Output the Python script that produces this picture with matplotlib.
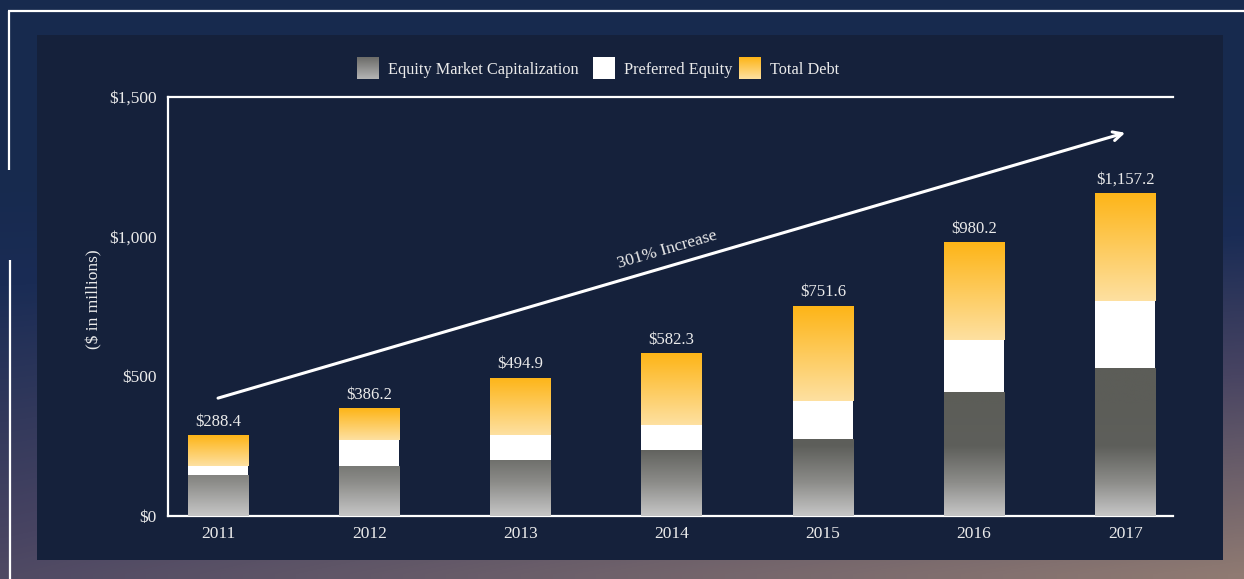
import numpy as np
import matplotlib
matplotlib.use("Agg")
import matplotlib.pyplot as plt
from matplotlib.patches import Rectangle
from matplotlib.colors import LinearSegmentedColormap

# ---------------- data ----------------
years = ["2011", "2012", "2013", "2014", "2015", "2016", "2017"]
equity_market_cap = [147, 179, 200, 236, 276, 444, 530]
preferred_equity = [32, 93, 90, 90, 136, 186, 240]
total_capitalization = [288.4, 386.2, 494.9, 582.3, 751.6, 980.2, 1157.2]
total_debt = [t - e - p for t, e, p in zip(total_capitalization, equity_market_cap, preferred_equity)]
total_labels = ["$288.4", "$386.2", "$494.9", "$582.3", "$751.6", "$980.2", "$1,157.2"]
y_ticks = [0, 500, 1000, 1500]
y_tick_labels = ["$0", "$500", "$1,000", "$1,500"]
legend_labels = ["Equity Market Capitalization", "Preferred Equity", "Total Debt"]
arrow_start = (0, 422)
arrow_end = (6, 1372)
arrow_text = "301% Increase"
arrow_text_pos = (2.97, 952)

# ---------------- style ----------------
FONT = ["Liberation Serif", "DejaVu Serif"]
plt.rcParams["font.family"] = FONT
TXT = "#ebebeb"
W, H = 1244, 579

fig = plt.figure(figsize=(W / 100, H / 100), dpi=100)

# background axes in pixel coordinates
bg = fig.add_axes([0, 0, 1, 1])
bg.set_xlim(0, W)
bg.set_ylim(H, 0)
bg.axis("off")

ny, nx = 60, 130
yy, xx = np.mgrid[0:ny, 0:nx]
yf = yy / (ny - 1)
xf = xx / (nx - 1)
t = np.clip((yf - 0.3) / 0.7, 0, 1) * (0.55 + 0.45 * xf)
bg_cmap = LinearSegmentedColormap.from_list(
    "bg", [(0, "#172a4e"), (0.15, "#1a2c55"), (0.5, "#484462"), (1.0, "#8f7a72")])
bg.imshow(t, cmap=bg_cmap, vmin=0, vmax=1, extent=[0, W, H, 0], aspect="auto",
          interpolation="bilinear", zorder=0)
bg.add_patch(Rectangle((37, 35), 1186, 525, facecolor="#15213b", edgecolor="none", zorder=1))
bg.plot([8, W], [10.5, 10.5], color="white", lw=1.6, zorder=2, solid_capstyle="butt")
bg.plot([8.5, 8.5], [10.5, 170], color="white", lw=1.6, zorder=2, solid_capstyle="butt")
bg.plot([9.5, 9.5], [260, H], color="white", lw=1.6, zorder=2, solid_capstyle="butt")

eq_grad = LinearSegmentedColormap.from_list("eq", ["#6c6c69", "#b4b4b4"])
debt_grad = LinearSegmentedColormap.from_list("debt", ["#fdb518", "#fee0a0"])
vgrad = np.linspace(0, 1, 64).reshape(-1, 1)

# legend (manual, to allow gradient swatches)
leg_y0, leg_y1 = 57, 79
swatches = [(357, eq_grad), (593, None), (739, debt_grad)]
for (x0, cm), lab in zip(swatches, legend_labels):
    if cm is None:
        bg.add_patch(Rectangle((x0, leg_y0), 22, leg_y1 - leg_y0, facecolor="white",
                               edgecolor="none", zorder=3))
    else:
        bg.imshow(vgrad, cmap=cm, extent=[x0, x0 + 22, leg_y1, leg_y0], aspect="auto",
                  zorder=3, interpolation="bilinear")
    bg.text(x0 + 31, (leg_y0 + leg_y1) / 2 + 1.5, lab, color=TXT, fontsize=11.7,
            ha="left", va="center", zorder=3)
bg.set_xlim(0, W)
bg.set_ylim(H, 0)

# ---------------- main axes ----------------
ax = fig.add_axes([168 / W, 1 - 516 / H, 1005 / W, 419 / H])
ax.set_facecolor("none")
x = np.arange(len(years))
bw = 0.4

eq_bars = ax.bar(x, equity_market_cap, bw, color="none", edgecolor="none", zorder=3)
pref_bars = ax.bar(x, preferred_equity, bw, bottom=equity_market_cap, color="white",
                   edgecolor="none", zorder=3)
debt_bottom = [e + p for e, p in zip(equity_market_cap, preferred_equity)]
debt_bars = ax.bar(x, total_debt, bw, bottom=debt_bottom, color="none", edgecolor="none", zorder=3)

# equity gradient in absolute data values: light at 0, dark above ~250
eq_abs = LinearSegmentedColormap.from_list(
    "eqabs", [(0, "#c6c6c6"), (0.3, "#8c8c89"), (0.62, "#5e5f5b"), (1.0, "#5c5d58")])
for b in eq_bars:
    bx, by, bwid, bh = b.get_x(), b.get_y(), b.get_width(), b.get_height()
    vals = np.linspace(by + bh, by, 128).reshape(-1, 1) / 400.0
    im = ax.imshow(np.clip(vals, 0, 1), cmap=eq_abs, vmin=0, vmax=1,
                   extent=[bx, bx + bwid, by, by + bh], aspect="auto", zorder=3,
                   interpolation="bilinear")
    im.set_clip_path(b)

for b in debt_bars:
    bx, by, bwid, bh = b.get_x(), b.get_y(), b.get_width(), b.get_height()
    im = ax.imshow(vgrad, cmap=debt_grad, extent=[bx, bx + bwid, by, by + bh],
                   aspect="auto", zorder=3, interpolation="bilinear")
    im.set_clip_path(b)

for xi, tot, lab in zip(x, total_capitalization, total_labels):
    ax.annotate(lab, (xi, tot), xytext=(0, 4), textcoords="offset points",
                ha="center", va="bottom", color=TXT, fontsize=12, zorder=4)

ax.set_xlim(-0.331, 6.316)
ax.set_ylim(0, 1500)
ax.set_xticks(x)
ax.set_xticklabels(years)
ax.set_yticks(y_ticks)
ax.set_yticklabels(y_tick_labels)
ax.tick_params(axis="both", length=0, colors=TXT, labelsize=12.5)
ax.tick_params(axis="y", pad=8)
ax.tick_params(axis="x", pad=7)
for s in ["left", "top", "bottom"]:
    ax.spines[s].set_color("white")
    ax.spines[s].set_linewidth(1.6)
    ax.spines[s].set_zorder(2)
ax.spines["right"].set_visible(False)

ax.set_ylabel("($ in millions)", color=TXT, fontsize=12.5)
ax.yaxis.set_label_coords(-0.065, 0.518)

# trend arrow
ax.annotate("", xy=arrow_end, xytext=arrow_start,
            arrowprops=dict(arrowstyle="->", color="white", lw=2.2, mutation_scale=16,
                            shrinkA=0, shrinkB=0), zorder=4)
p0 = ax.transData.transform(arrow_start)
p1 = ax.transData.transform(arrow_end)
angle = np.degrees(np.arctan2(p1[1] - p0[1], p1[0] - p0[0]))
ax.text(arrow_text_pos[0], arrow_text_pos[1], arrow_text, rotation=angle,
        rotation_mode="anchor", ha="center", va="center", color=TXT, fontsize=12.5, zorder=4)

fig.savefig("out.png", dpi=100)
